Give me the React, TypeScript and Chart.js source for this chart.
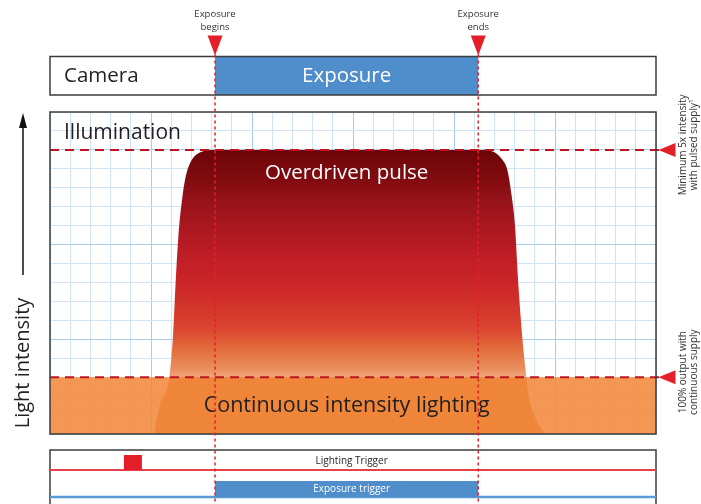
import React, { useEffect, useRef } from "react";
import { Chart, registerables } from "chart.js";

Chart.register(...registerables);

// ---- data ----
const gridColumns = 30;
const gridRows = 17;
const pulsePeak = 15;
const continuousLevel = 3;
const exposureWindow = [8.17, 21.2];
const lightingTriggerWindow = [3.66, 4.55];
const pulseX = [5.15, 5.45, 5.88, 6.08, 6.22, 6.36, 6.54, 6.7, 6.98, 7.45, 8.1, 21.4, 22.0, 22.38, 22.65, 22.85, 23.02, 23.15, 23.35, 23.54, 23.7, 24.05, 24.5];
const pulseY = [0, 1.6, 2.83, 5, 8, 10.5, 12.4, 13.5, 14.4, 14.88, 15, 15, 14.88, 14.5, 13.9, 12.6, 11, 8.5, 5.5, 3.4, 2, 0.8, 0];
const exposureMarkers = [["Exposure", "begins"], ["Exposure", "ends"]];
const levelNotes = [["Minimum 5x intensity", "with pulsed supply¹"], ["100% output with", "continuous supply"]];
const panelTitles = ["Camera", "Exposure", "Illumination", "Overdriven pulse", "Continuous intensity lighting"];
const triggerTitles = ["Lighting Trigger", "Exposure trigger"];
const axisTitle = "Light intensity";

// ---- styles ----
const FONT = '"Open Sans", "Noto Sans", sans-serif';
const BLUE = "#4f8dcb";
const RED = "#e3202a";
const DASH_RED = "#c0141c";
const TEXT = "#231f20";

function pulseFill(c: any) {
  const chart = c.chart;
  if (!chart.chartArea) return "rgba(0,0,0,0)";
  const ys = chart.scales.y;
  const top = ys.getPixelForValue(pulsePeak);
  const bot = ys.getPixelForValue(0);
  const g = chart.ctx.createLinearGradient(0, top, 0, bot);
  const f = (v: number) => Math.min(1, Math.max(0, (pulsePeak - v) / pulsePeak));
  g.addColorStop(0, "#6c0508");
  g.addColorStop(f(13.5), "#800b0f");
  g.addColorStop(f(12.4), "#95121a");
  g.addColorStop(f(9.7), "#bc1c24");
  g.addColorStop(f(7.6), "#cd2829");
  g.addColorStop(f(5.5), "#da4630");
  g.addColorStop(f(4.4), "#e2703c");
  g.addColorStop(f(3.4), "#eb9060");
  g.addColorStop(f(continuousLevel + 0.02), "#f1a57c");
  g.addColorStop(f(continuousLevel), "rgba(236,122,40,0.6)");
  g.addColorStop(1, "rgba(236,122,40,0.6)");
  return g;
}

const gridColor = (c: any) =>
  c.tick && Math.round(c.tick.value) % 5 === 0 ? "#a6cdef" : "#cfe4f6";

const decor = {
  id: "decor",
  afterDraw(chart: any) {
    const { ctx, chartArea: a, scales } = chart;
    const xs = scales.x;
    const ys = scales.y;
    const ex0 = xs.getPixelForValue(exposureWindow[0]);
    const ex1 = xs.getPixelForValue(exposureWindow[1]);
    const exMid = (ex0 + ex1) / 2;
    const W = a.right - a.left;
    ctx.save();

    // illumination texts
    ctx.textBaseline = "middle";
    ctx.fillStyle = TEXT;
    ctx.font = `21px ${FONT}`;
    ctx.textAlign = "left";
    ctx.fillText(panelTitles[2], a.left + 14, a.top + 21);
    ctx.textAlign = "center";
    ctx.font = `20.5px ${FONT}`;
    ctx.fillStyle = "#ffffff";
    ctx.fillText(panelTitles[3], exMid, ys.getPixelForValue(pulsePeak) + 23);
    ctx.fillStyle = TEXT;
    ctx.font = `21.5px ${FONT}`;
    ctx.fillText(panelTitles[4], exMid, ys.getPixelForValue(continuousLevel / 2));

    // illumination border
    ctx.strokeStyle = "#3c3c3c";
    ctx.lineWidth = 1.5;
    ctx.strokeRect(a.left, a.top, W, a.bottom - a.top);

    // camera panel
    const camTop = a.top - 55.5;
    const camBot = a.top - 17;
    ctx.fillStyle = BLUE;
    ctx.fillRect(ex0, camTop, ex1 - ex0, camBot - camTop);
    ctx.strokeRect(a.left, camTop, W, camBot - camTop);
    ctx.font = `20.5px ${FONT}`;
    ctx.textAlign = "left";
    ctx.fillStyle = TEXT;
    ctx.fillText(panelTitles[0], a.left + 14, (camTop + camBot) / 2);
    ctx.textAlign = "center";
    ctx.fillStyle = "#ffffff";
    ctx.fillText(panelTitles[1], exMid, (camTop + camBot) / 2);

    // trigger panel
    const trigTop = a.bottom + 16;
    const redY = a.bottom + 36;
    const blueTop = a.bottom + 47;
    const blueY = a.bottom + 63;
    ctx.strokeStyle = "#3c3c3c";
    ctx.lineWidth = 1.5;
    ctx.strokeRect(a.left, trigTop, W, 100);
    ctx.strokeStyle = "#e8404a";
    ctx.lineWidth = 2;
    ctx.beginPath();
    ctx.moveTo(a.left, redY);
    ctx.lineTo(a.right, redY);
    ctx.stroke();
    const lt0 = xs.getPixelForValue(lightingTriggerWindow[0]);
    const lt1 = xs.getPixelForValue(lightingTriggerWindow[1]);
    ctx.fillStyle = RED;
    ctx.fillRect(lt0, trigTop + 5, lt1 - lt0, redY - trigTop - 5);
    ctx.strokeStyle = "#5b9bd5";
    ctx.lineWidth = 2.5;
    ctx.beginPath();
    ctx.moveTo(a.left, blueY);
    ctx.lineTo(a.right, blueY);
    ctx.stroke();
    ctx.fillStyle = BLUE;
    ctx.fillRect(ex0, blueTop, ex1 - ex0, blueY - blueTop);
    ctx.font = `10px ${FONT}`;
    ctx.fillStyle = TEXT;
    ctx.fillText(triggerTitles[0], exMid + 5, trigTop + 11);
    ctx.fillStyle = "#ffffff";
    ctx.fillText(triggerTitles[1], exMid + 5, (blueTop + blueY) / 2);

    // vertical dotted exposure lines, top markers
    [ex0, ex1].forEach((px, i) => {
      ctx.strokeStyle = RED;
      ctx.lineWidth = 1.5;
      ctx.setLineDash([3, 3]);
      ctx.beginPath();
      ctx.moveTo(px, camTop - 2);
      ctx.lineTo(px, chart.height);
      ctx.stroke();
      ctx.setLineDash([]);
      ctx.fillStyle = RED;
      ctx.beginPath();
      ctx.moveTo(px - 7.5, camTop - 21);
      ctx.lineTo(px + 7.5, camTop - 21);
      ctx.lineTo(px, camTop - 1);
      ctx.closePath();
      ctx.fill();
      ctx.fillStyle = "#333333";
      ctx.font = `9.5px ${FONT}`;
      ctx.textAlign = "center";
      ctx.fillText(exposureMarkers[i][0], px, camTop - 42);
      ctx.fillText(exposureMarkers[i][1], px, camTop - 29.5);
    });

    // right level markers
    [pulsePeak, continuousLevel].forEach((lvl, i) => {
      const yp = ys.getPixelForValue(lvl);
      ctx.fillStyle = RED;
      ctx.beginPath();
      ctx.moveTo(a.right + 2.5, yp);
      ctx.lineTo(a.right + 19.5, yp - 7);
      ctx.lineTo(a.right + 19.5, yp + 7);
      ctx.closePath();
      ctx.fill();
      ctx.save();
      ctx.translate(a.right + 27.5, yp - 5);
      ctx.rotate(-Math.PI / 2);
      ctx.fillStyle = "#333333";
      ctx.font = `10px ${FONT}`;
      ctx.textAlign = "center";
      ctx.fillText(levelNotes[i][0], 0, 0);
      ctx.fillText(levelNotes[i][1], 0, 11);
      ctx.restore();
    });

    // left axis title and arrow
    ctx.save();
    ctx.translate(a.left - 27, a.bottom - 71);
    ctx.rotate(-Math.PI / 2);
    ctx.fillStyle = TEXT;
    ctx.font = `20px ${FONT}`;
    ctx.textAlign = "center";
    ctx.fillText(axisTitle, 0, 0);
    ctx.restore();
    ctx.strokeStyle = "#111111";
    ctx.lineWidth = 1.5;
    ctx.beginPath();
    ctx.moveTo(a.left - 27, a.bottom - 159);
    ctx.lineTo(a.left - 27, a.top + 10);
    ctx.stroke();
    ctx.fillStyle = "#111111";
    ctx.beginPath();
    ctx.moveTo(a.left - 27, a.top + 1);
    ctx.lineTo(a.left - 31, a.top + 16);
    ctx.lineTo(a.left - 23, a.top + 16);
    ctx.closePath();
    ctx.fill();

    ctx.restore();
  },
};

export default function App() {
  const ref = useRef<HTMLCanvasElement>(null);
  useEffect(() => {
    const canvas = ref.current;
    if (!canvas) return;
    const pulseData = pulseX.map((x, i) => ({ x, y: pulseY[i] }));
    const chart = new Chart(canvas, {
      type: "line",
      data: {
        datasets: [
          {
            label: "peak level",
            data: [{ x: 0, y: pulsePeak }, { x: gridColumns + 0.2, y: pulsePeak }],
            borderColor: DASH_RED,
            borderWidth: 2,
            borderDash: [9, 6],
            pointRadius: 0,
            fill: false,
            clip: false,
            order: 1,
          },
          {
            label: "continuous level",
            data: [{ x: 0, y: continuousLevel }, { x: gridColumns + 0.2, y: continuousLevel }],
            borderColor: DASH_RED,
            borderWidth: 2,
            borderDash: [9, 6],
            pointRadius: 0,
            fill: false,
            clip: false,
            order: 1,
          },
          {
            label: "pulse",
            data: pulseData,
            cubicInterpolationMode: "monotone",
            borderWidth: 0,
            borderColor: "rgba(0,0,0,0)",
            pointRadius: 0,
            fill: "origin",
            backgroundColor: pulseFill,
            order: 2,
          },
          {
            label: "continuous",
            data: [{ x: 0, y: continuousLevel }, { x: gridColumns, y: continuousLevel }],
            borderWidth: 0,
            borderColor: "rgba(0,0,0,0)",
            pointRadius: 0,
            fill: "origin",
            backgroundColor: "rgba(243,140,65,0.9)",
            order: 3,
          },
        ],
      } as any,
      options: {
        responsive: false,
        animation: false,
        devicePixelRatio: 1,
        events: [],
        layout: { padding: { left: 50, right: 45, top: 112, bottom: 70 } },
        plugins: { legend: { display: false }, tooltip: { enabled: false } },
        scales: {
          x: {
            type: "linear",
            min: 0,
            max: gridColumns,
            ticks: { display: false, stepSize: 1, maxTicksLimit: 100, autoSkip: false },
            grid: { color: gridColor, drawTicks: false, lineWidth: 1 },
            border: { display: false },
          },
          y: {
            type: "linear",
            min: 0,
            max: gridRows,
            ticks: { display: false, stepSize: 1, maxTicksLimit: 100, autoSkip: false },
            grid: { color: gridColor, drawTicks: false, lineWidth: 1 },
            border: { display: false },
          },
        },
      } as any,
      plugins: [decor],
    });
    return () => chart.destroy();
  }, []);
  return (
    <div style={{ position: "fixed", left: 0, top: 0, width: 701, height: 504, background: "#fff" }}>
      <canvas ref={ref} width={701} height={504} style={{ display: "block" }} />
    </div>
  );
}
